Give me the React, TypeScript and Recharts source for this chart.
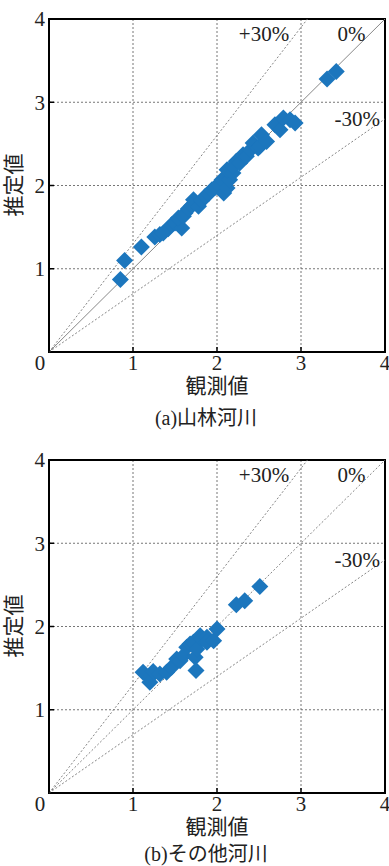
import React from 'react';
import {
  ScatterChart,
  Scatter,
  XAxis,
  YAxis,
  CartesianGrid,
  ReferenceLine,
  ReferenceArea,
  ReferenceDot,
} from 'recharts';

// (a) 山林河川: observed vs. estimated
const forestObs = [
  0.85, 0.9, 1.1, 1.26, 1.32, 1.36, 1.42, 1.46, 1.5, 1.58, 1.54, 1.6, 1.62, 1.66,
  1.72, 1.7, 1.78, 1.82, 1.86, 1.9, 1.94, 1.98, 2.02, 2.06, 2.08, 2.12, 2.15, 2.12,
  2.19, 2.23, 2.19, 2.27, 2.31, 2.35, 2.4, 2.43, 2.49, 2.51, 2.53, 2.59, 2.69, 2.75,
  2.79, 2.87, 2.93, 3.31, 3.42,
];
const forestEst = [
  0.87, 1.1, 1.26, 1.38, 1.41, 1.43, 1.48, 1.53, 1.55, 1.49, 1.61, 1.63, 1.67, 1.72,
  1.83, 1.76, 1.75, 1.82, 1.87, 1.9, 1.95, 1.98, 2.01, 2.07, 1.91, 1.97, 2.07, 2.19,
  2.15, 2.29, 2.23, 2.27, 2.37, 2.35, 2.43, 2.51, 2.45, 2.47, 2.61, 2.53, 2.73, 2.67,
  2.81, 2.79, 2.75, 3.28, 3.37,
];

// (b) その他河川
const otherObs = [
  1.12, 1.2, 1.2, 1.24, 1.32, 1.4, 1.46, 1.52, 1.56, 1.6, 1.64, 1.68, 1.72, 1.74,
  1.75, 1.76, 1.8, 1.82, 1.88, 1.88, 1.96, 2.0, 2.23, 2.33, 2.51,
];
const otherEst = [
  1.45, 1.39, 1.33, 1.46, 1.43, 1.45, 1.51, 1.61, 1.59, 1.65, 1.75, 1.79, 1.81, 1.63,
  1.47, 1.73, 1.89, 1.85, 1.87, 1.81, 1.83, 1.97, 2.26, 2.31, 2.48,
];

const axisTicks = [0, 1, 2, 3, 4];
const yTicks = [1, 2, 3, 4];

const SERIF = '"Liberation Serif", "Times New Roman", serif';
const CJK = '"Liberation Serif", "Noto Sans CJK JP", serif';
const BLUE = '#1c76bd';

const Diamond = (props: any) => {
  const { cx, cy } = props;
  const r = 8.5;
  return (
    <polygon
      points={`${cx},${cy - r} ${cx + r},${cy} ${cx},${cy + r} ${cx - r},${cy}`}
      fill={BLUE}
    />
  );
};

// x tick "0" sits under the y labels, at the corner
const XTick = (props: any) => {
  const { x, y, payload } = props;
  const dx = payload.value === 0 ? -9 : 0;
  return (
    <text x={x + dx} y={y} dy="0.71em" textAnchor="middle" fontSize={21} fontFamily={SERIF} fill="#222">
      {payload.value}
    </text>
  );
};

interface PanelProps {
  obs: number[];
  est: number[];
  caption: string;
  top: number;
  captionY: number;
  solidDiagonal: boolean;
}

const textStyle = (left: number, top: number, size: number, rotate = false): React.CSSProperties => ({
  position: 'absolute',
  left,
  top,
  transform: rotate ? 'translate(-50%, -50%) rotate(-90deg)' : 'translate(-50%, -50%)',
  fontFamily: CJK,
  fontSize: size,
  color: '#222',
  whiteSpace: 'nowrap',
  lineHeight: 1,
});

const Panel: React.FC<PanelProps> = ({ obs, est, caption, top, captionY, solidDiagonal }) => {
  const data = obs.map((x, i) => ({ x, y: est[i] }));
  const pctLabel = (value: string) => ({
    value,
    position: 'center' as const,
    fontSize: 21,
    fontFamily: SERIF,
    fill: '#222',
  });

  return (
    <div style={{ position: 'absolute', left: 0, top, width: 389, height: 425 }}>
      <ScatterChart width={389} height={400} margin={{ top: 19, right: 4, bottom: 0, left: 9 }}>
        <CartesianGrid stroke="#666" strokeDasharray="2 2" strokeWidth={0.9} />
        <XAxis
          type="number"
          dataKey="x"
          domain={[0, 4]}
          ticks={axisTicks}
          height={48}
          axisLine={false}
          tickSize={-5}
          tickMargin={8}
          tickLine={{ stroke: '#000', strokeWidth: 1.5 }}
          tick={<XTick />}
          interval={0}
        />
        <YAxis
          type="number"
          dataKey="y"
          domain={[0, 4]}
          ticks={yTicks}
          width={40}
          axisLine={false}
          tickSize={-5}
          tickMargin={9}
          tickLine={{ stroke: '#000', strokeWidth: 1.5 }}
          tick={{ fontSize: 21, fontFamily: SERIF, fill: '#222' }}
          interval={0}
        />
        <ReferenceLine
          segment={[{ x: 0, y: 0 }, { x: 4, y: 4 }]}
          stroke={solidDiagonal ? '#888' : '#777'}
          strokeWidth={solidDiagonal ? 1 : 0.9}
          strokeDasharray={solidDiagonal ? undefined : '2 2'}
        />
        <ReferenceLine
          segment={[{ x: 0, y: 0 }, { x: 4 / 1.3, y: 4 }]}
          stroke="#777"
          strokeWidth={0.9}
          strokeDasharray="2 2"
        />
        <ReferenceLine
          segment={[{ x: 0, y: 0 }, { x: 4, y: 4 * 0.7 }]}
          stroke="#777"
          strokeWidth={0.9}
          strokeDasharray="2 2"
        />
        <Scatter data={data} shape={<Diamond />} isAnimationActive={false} />
        <ReferenceDot x={2.56} y={3.83} r={1} fill="none" stroke="none" label={pctLabel('+30%')} />
        <ReferenceDot x={3.6} y={3.83} r={1} fill="none" stroke="none" label={pctLabel('0%')} />
        <ReferenceDot x={3.67} y={2.81} r={1} fill="none" stroke="none" label={pctLabel('-30%')} />
        <ReferenceArea x1={0} x2={4} y1={0} y2={4} fill="none" stroke="#000" strokeWidth={2} fillOpacity={0} />
      </ScatterChart>
      <div style={textStyle(14, 185, 21, true)}>推定値</div>
      <div style={textStyle(217, 386, 21)}>観測値</div>
      <div style={textStyle(206, captionY, 20)}>{caption}</div>
    </div>
  );
};

export default function App() {
  return (
    <div style={{ position: 'absolute', left: 0, top: 0, width: 389, height: 866, background: '#fff' }}>
      <Panel obs={forestObs} est={forestEst} caption="(a)山林河川" top={0} captionY={418} solidDiagonal />
      <Panel
        obs={otherObs}
        est={otherEst}
        caption="(b)その他河川"
        top={441}
        captionY={413}
        solidDiagonal={false}
      />
    </div>
  );
}
